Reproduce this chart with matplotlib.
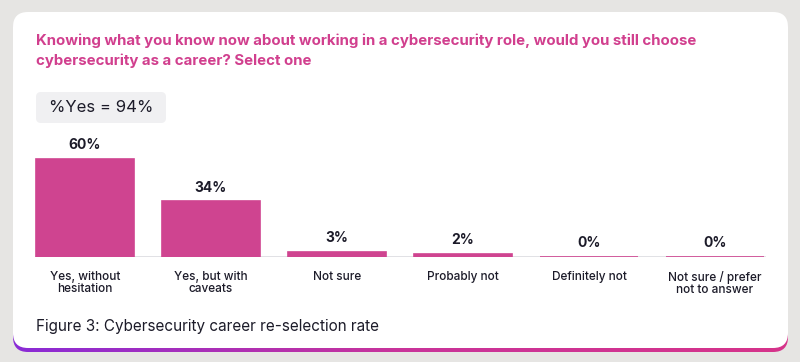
import numpy as np
import matplotlib.pyplot as plt
from matplotlib.patches import FancyBboxPatch
from matplotlib.colors import LinearSegmentedColormap

categories = ["Yes, without\nhesitation", "Yes, but with\ncaveats", "Not sure",
              "Probably not", "Definitely not", "Not sure / prefer\nnot to answer"]
shares = [60, 34, 3, 2, 0, 0]
headline = "%Yes = 94%"
title = ("Knowing what you know now about working in a cybersecurity role, would you still choose\n"
         "cybersecurity as a career? Select one")
caption = "Figure 3: Cybersecurity career re-selection rate"

pink = "#cf4490"
dark = "#1c1b29"
plt.rcParams['font.family'] = ['Inter', 'DejaVu Sans']

W, H = 800, 362
fig = plt.figure(figsize=(W / 100, H / 100), dpi=100)
fig.patch.set_facecolor("#e6e5e3")

# full-figure pixel axes for the card and texts
bg = fig.add_axes([0, 0, 1, 1])
bg.set_xlim(0, W)
bg.set_ylim(H, 0)
bg.axis("off")

# gradient border peeking out under the card
border = FancyBboxPatch((13, 16), 775, 336, boxstyle="round,pad=0,rounding_size=15",
                        facecolor="none", edgecolor="none")
bg.add_patch(border)
grad = np.linspace(0, 1, 256).reshape(1, -1)
cmap = LinearSegmentedColormap.from_list("g", ["#8a2bd6", "#c9339a", "#d6338a"])
im = bg.imshow(grad, extent=[13, 788, 352, 16], cmap=cmap, aspect="auto", zorder=1)
im.set_clip_path(border)

card = FancyBboxPatch((13, 12), 775, 336, boxstyle="round,pad=0,rounding_size=15",
                      facecolor="white", edgecolor="none", zorder=2)
bg.add_patch(card)

bg.text(36, 33, title, color="#d13f8e", fontsize=10.8, fontweight="bold",
        va="top", ha="left", linespacing=1.55, zorder=3)

pill = FancyBboxPatch((36, 92), 130, 31, boxstyle="round,pad=0,rounding_size=5",
                      facecolor="#f0f0f2", edgecolor="none", zorder=3)
bg.add_patch(pill)
bg.text(101, 108, headline, color=dark, fontsize=12, ha="center", va="center", zorder=4)

bg.text(36, 331, caption, color=dark, fontsize=11, ha="left", va="baseline", zorder=3)

# bar axes: bar centres 126 px apart, baseline at y=257
ax = fig.add_axes([22 / W, 1 - 257 / H, 756 / W, 127 / H])
ax.set_facecolor("none")
x = np.arange(len(categories))
ax.set_xlim(-0.5, len(categories) - 0.5)
ax.set_ylim(0, 127 / 1.633)
ax.bar(x, shares, width=0.78, color=pink, edgecolor=pink, linewidth=1.2, zorder=3)
ax.axhline(0, xmin=14 / 756, xmax=743 / 756, color="#dcdce0", linewidth=1.2, zorder=2)
for xi, v in zip(x, shares):
    ax.text(xi, v + 4.2, f"{v}%", ha="center", va="bottom", fontsize=10,
            fontweight="bold", color=dark)
ax.set_xticks(x)
ax.set_xticklabels(categories, fontsize=8.5, color=dark, linespacing=1.0,
                   fontweight="medium")
ax.tick_params(axis="x", length=0, pad=10)
ax.set_yticks([])
for s in ax.spines.values():
    s.set_visible(False)

fig.savefig("out.png", dpi=100, facecolor=fig.get_facecolor())
